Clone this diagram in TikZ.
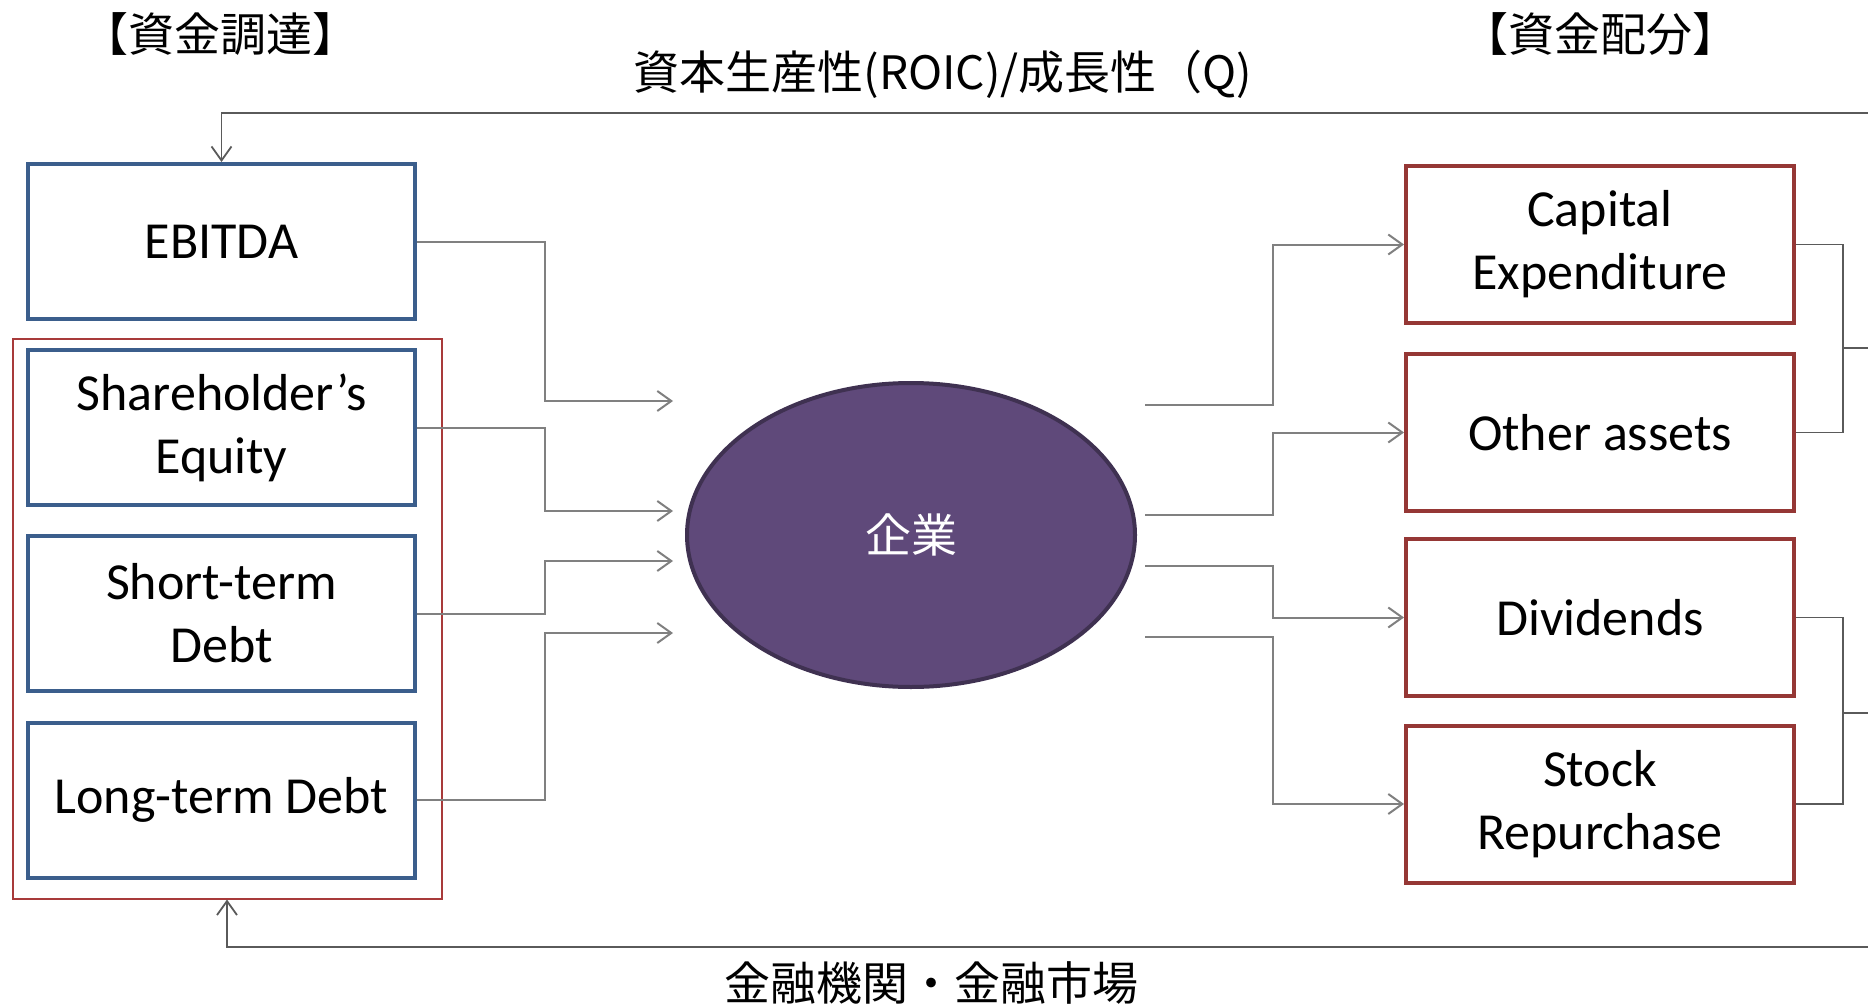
\documentclass[tikz,border=0pt]{standalone}
\usepackage{fontspec}
\setmainfont{Carlito}
\newfontfamily\jpfont{Noto Sans CJK JP}
\usetikzlibrary{arrows.meta,shapes.geometric}
\definecolor{bluebox}{HTML}{3B5E8C}
\definecolor{redbox}{HTML}{953735}
\definecolor{grpred}{HTML}{A83A3A}
\definecolor{purplefill}{HTML}{5F497A}
\definecolor{purpleline}{HTML}{3F3151}
\definecolor{conncol}{HTML}{808080}
\definecolor{fbcol}{HTML}{5A5A5A}
\begin{document}
\begin{tikzpicture}[x=0.5pt,y=-0.5pt,
  srcbox/.style={draw=bluebox, line width=2pt, minimum width=193.5pt, minimum height=77.5pt,
    align=center, inner sep=0pt, font=\fontsize{26}{31.5}\selectfont},
  usebox/.style={draw=redbox, line width=2pt, minimum width=194pt, minimum height=78.5pt,
    align=center, inner sep=0pt, font=\fontsize{26}{31.5}\selectfont},
  grpbox/.style={draw=grpred, line width=1pt, minimum width=214.5pt, minimum height=280pt, inner sep=0pt},
  jplabel/.style={inner sep=0pt, font=\jpfont\fontsize{23}{28}\selectfont},
  conn/.style={draw=conncol, line width=1pt},
  arr/.style={-{Straight Barb[length=7pt,width=10pt]}},
  fb/.style={draw=fbcol, line width=0.9pt},
  brk/.style={draw=fbcol, line width=0.8pt}
]
\useasboundingbox (0,0) rectangle (1868,1006);

% labels
\node[jplabel] (lt) at (220,34) {【資金調達】};
\node[jplabel] (rt) at (1600,34) {【資金配分】};
\node[jplabel] (top) at (943,74) {資本生産性(ROIC)/成長性（Q)};
\node[jplabel] (bot) at (931,983) {金融機関・金融市場};

% left boxes
\node[grpbox] (grp) at (227,618.5) {};
\node[srcbox] (eb) at (221.5,241.5) {EBITDA};
\node[srcbox] (sh) at (221.5,427.5) {Shareholder’s\\Equity};
\node[srcbox] (st) at (221.5,613.5) {Short-term\\Debt};
\node[srcbox] (lg) at (221.5,800) {Long-term Debt};

% center
\node[ellipse, draw=purpleline, fill=purplefill, line width=2pt, minimum width=224pt, minimum height=152pt,
  text=white, font=\jpfont\fontsize{23}{28}\selectfont] (co) at (911,535) {企業};

% right boxes
\node[usebox] (cx) at (1600,244.5) {Capital\\Expenditure};
\node[usebox] (ot) at (1600,432.5) {Other assets};
\node[usebox] (dv) at (1600,617.5) {Dividends};
\node[usebox] (sr) at (1600,804) {Stock\\Repurchase};

% coordinates
\coordinate (jl) at (545,0);
\coordinate (jr) at (1273,0);
\coordinate (inA) at (673,401);
\coordinate (inB) at (673,511);
\coordinate (inC) at (673,561);
\coordinate (inD) at (673,633);
\coordinate (outA) at (1145,405);
\coordinate (outB) at (1145,515);
\coordinate (outC) at (1145,566);
\coordinate (outD) at (1145,637);
\coordinate (br1) at (1843,348);
\coordinate (e1) at (1868,348);
\coordinate (br2) at (1843,713);
\coordinate (e2) at (1868,713);
\coordinate (ftop) at (1868,113);
\coordinate (fbot) at (1868,947);

% left connectors
\draw[conn,arr] (eb.east) -- (eb.east -| jl) |- (inA);
\draw[conn,arr] (sh.east) -- (sh.east -| jl) |- (inB);
\draw[conn,arr] (st.east) -- (st.east -| jl) |- (inC);
\draw[conn,arr] (lg.east) -- (lg.east -| jl) |- (inD);

% right connectors
\draw[conn,arr] (outA) -- (outA -| jr) |- (cx.west);
\draw[conn,arr] (outB) -- (outB -| jr) |- (ot.west);
\draw[conn,arr] (outC) -- (outC -| jr) |- (dv.west);
\draw[conn,arr] (outD) -- (outD -| jr) |- (sr.west);

% brackets
\draw[brk] (cx.east) -| (br1) |- (ot.east);
\draw[brk] (br1) -- (e1);
\draw[brk] (dv.east) -| (br2) |- (sr.east);
\draw[brk] (br2) -- (e2);

% feedback lines
\draw[fb,arr] (ftop) -| (eb.north);
\draw[fb,arr] (fbot) -| (grp.south);
\end{tikzpicture}
\end{document}
